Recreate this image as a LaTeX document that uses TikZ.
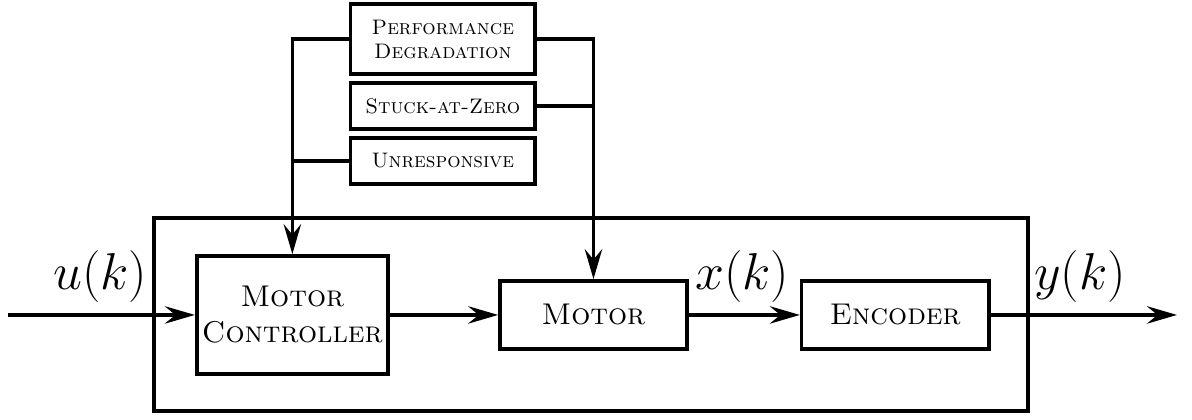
\documentclass[tikz,border=0pt]{standalone}
\usepackage{tikz}
\usepackage{amsmath}
\usetikzlibrary{calc,
	positioning,
	arrows.meta}
\tikzstyle{blk}=[draw, line width=1.2pt, align=center, inner sep=0pt,
		font=\normalsize\scshape]
\tikzstyle{fblk}=[draw, line width=1.2pt, align=center, inner sep=0pt,
		minimum width=2.159cm, font=\scriptsize\scshape]
\tikzstyle{sig}=[line width=1.2pt]
\tikzstyle{lbl}=[inner sep=0pt, font=\fontsize{16.6}{20}\selectfont]

\begin{document}
\begin{tikzpicture}[>={Stealth[length=10pt, width=5.8pt, inset=3.5pt]}]
	\useasboundingbox (0,0) rectangle (13.965,4.920);
	% outer system box
	\node[draw, line width=1.2pt, minimum width=10.239cm, minimum height=2.261cm] (plant) at (6.924,1.236) {};
	% blocks
	\node[blk, minimum width=2.241cm, minimum height=1.382cm] (ctrl) at (3.425,1.230) {Motor\\Controller};
	\node[blk, minimum width=2.191cm, minimum height=0.797cm] (motor) at (6.953,1.230) {Motor};
	\node[blk, minimum width=2.194cm, minimum height=0.797cm] (enc) at (10.489,1.230) {Encoder};
	% fault blocks
	\node[fblk, minimum height=0.820cm] (perf) at (5.188,4.460) {Performance\\Degradation};
	\node[fblk, minimum height=0.539cm] (stuck) at (5.188,3.679) {Stuck-at-Zero};
	\node[fblk, minimum height=0.539cm] (unresp) at (5.188,3.034) {Unresponsive};
	% signals
	\coordinate (in) at (0.094,1.230);
	\coordinate (out) at (13.789,1.230);
	\draw[sig,->] (in) -- (ctrl.west);
	\draw[sig,->] (ctrl.east) -- (motor.west);
	\draw[sig,->] (motor.east) -- (enc.west);
	\draw[sig,->] (enc.east) -- (out);
	\draw[sig,->] (perf.west) -| (ctrl.north);
	\draw[sig] (unresp.west) -- (unresp.west -| ctrl.north);
	\draw[sig,->] (perf.east) -| (motor.north);
	\draw[sig] (stuck.east) -- (stuck.east -| motor.north);
	% labels
	\node[lbl] (ulbl) at (1.172,1.675) {$u(k)$};
	\node[lbl] (xlbl) at (8.693,1.675) {$x(k)$};
	\node[lbl] (ylbl) at (12.652,1.675) {$y(k)$};
\end{tikzpicture}
\end{document}
